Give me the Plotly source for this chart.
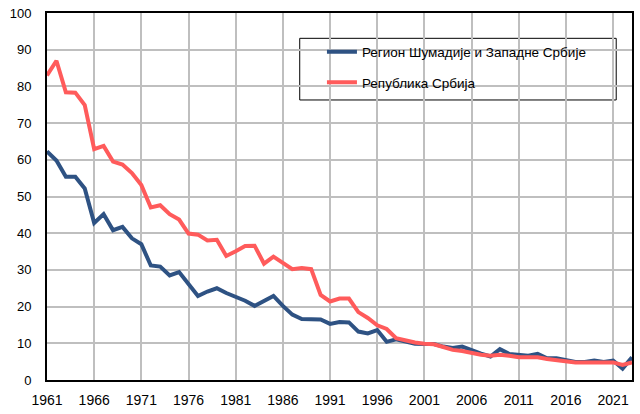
import plotly.graph_objects as go

years = list(range(1961, 2024))

region = [62.3, 59.8, 55.4, 55.4, 52.2, 42.8, 45.2, 40.8, 41.7, 38.6,
          37.0, 31.2, 30.9, 28.5, 29.4, 26.3, 22.9, 24.1, 25.0, 23.7,
          22.7, 21.6, 20.2, 21.6, 22.9, 20.2, 17.8, 16.6, 16.5, 16.5,
          15.3, 15.8, 15.7, 13.2, 12.7, 13.6, 10.4, 11.1, 10.5, 9.9,
          9.8, 9.8, 9.1, 8.7, 9.1, 8.1, 7.2, 6.4, 8.4, 7.1,
          6.8, 6.6, 7.1, 5.9, 5.9, 5.4, 4.9, 4.9, 5.3, 4.9,
          5.3, 3.1, 6.2]

serbia = [83.0, 87.0, 78.4, 78.3, 74.9, 62.9, 63.8, 59.5, 58.7, 56.4,
          53.1, 47.0, 47.6, 45.2, 43.7, 39.9, 39.6, 38.0, 38.2, 33.8,
          35.1, 36.5, 36.6, 31.7, 33.6, 32.0, 30.2, 30.5, 30.2, 23.2,
          21.4, 22.2, 22.2, 18.5, 16.9, 14.9, 13.9, 11.4, 10.8, 10.2,
          9.9, 9.75, 9.0, 8.2, 7.9, 7.3, 6.9, 6.6, 6.9, 6.6,
          6.2, 6.2, 6.2, 5.7, 5.4, 5.3, 4.8, 4.8, 4.9, 4.8,
          4.8, 4.1, 4.8]

x_ticks = list(range(1961, 2022, 5))
y_ticks = list(range(0, 101, 10))

name_region = "Регион Шумадије и Западне Србије"
name_serbia = "Република Србија"

fig = go.Figure()
fig.add_trace(go.Scatter(x=years, y=region, mode="lines", name=name_region,
                         line=dict(color="#2E5283", width=4), legendgroup="a"))
fig.add_trace(go.Scatter(x=years, y=serbia, mode="lines", name=name_serbia,
                         line=dict(color="#FF5B5B", width=4), legendgroup="b"))

family = "Liberation Sans, Arial, sans-serif"
font = dict(family=family, size=13.5, color="#000000")

fig.update_layout(
    width=640, height=414,
    margin=dict(l=47, r=6, t=10, b=31),
    paper_bgcolor="white", plot_bgcolor="white",
    font=font,
    showlegend=True,
    legend=dict(x=0.47, y=0.936, xanchor="left", yanchor="top",
                bgcolor="rgba(0,0,0,0)", borderwidth=0,
                tracegroupgap=10, traceorder="grouped",
                font=font),
    xaxis=dict(range=[1961, 2023], tickmode="array", tickvals=x_ticks,
               ticktext=[str(v) for v in x_ticks],
               tickfont=dict(family=family, size=14, color="#000000"),
               showgrid=True, gridcolor="#BFBFBF", gridwidth=1.5,
               showline=True, linecolor="#000000", linewidth=2, mirror=True,
               ticks="", ticklabelstandoff=6, zeroline=False),
    yaxis=dict(range=[0, 100], tickmode="array", tickvals=y_ticks,
               tickfont=dict(family=family, size=13, color="#000000"),
               showgrid=True, gridcolor="#BFBFBF", gridwidth=1.5,
               showline=True, linecolor="#000000", linewidth=2, mirror=True,
               ticks="", ticklabelstandoff=11, zeroline=False),
    shapes=[dict(type="rect", xref="paper", yref="paper",
                 x0=0.432, x1=0.973, y0=0.763, y1=0.931,
                 line=dict(color="#000000", width=1), fillcolor="white",
                 layer="below")],
)

fig.write_html("out.html", config={"displayModeBar": False},
               post_script="document.body.style.margin='0px';")
